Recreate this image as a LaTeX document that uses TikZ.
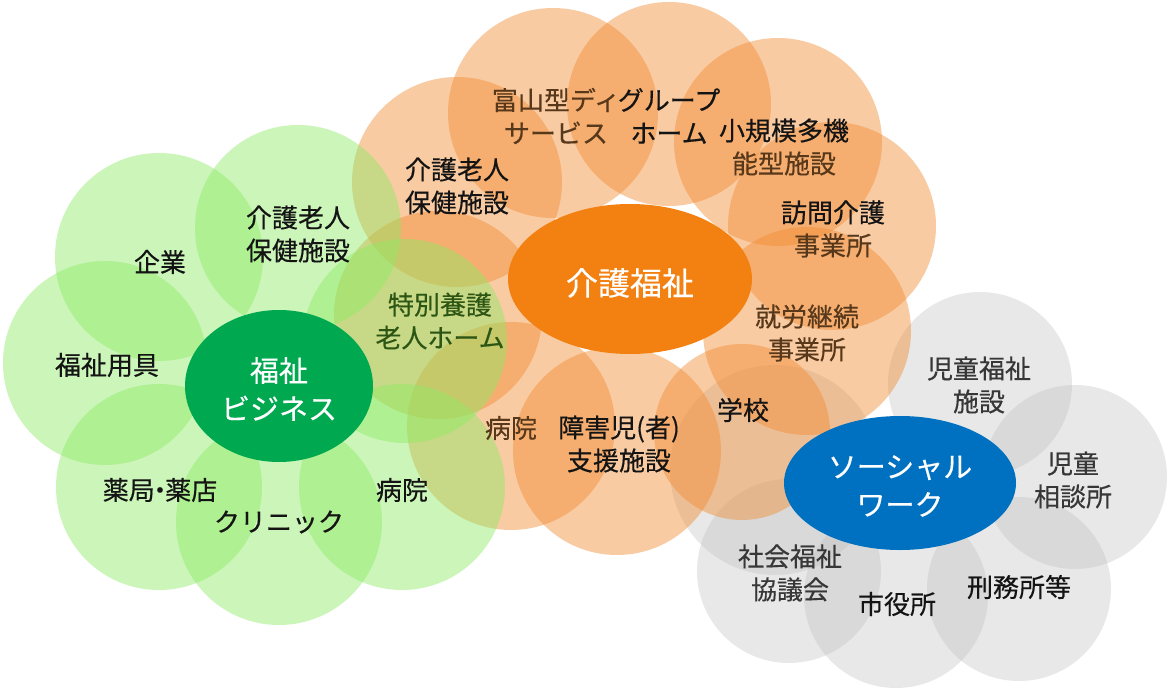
\documentclass[tikz,border=0pt]{standalone}
\usepackage{fontspec}
\newfontfamily\jp{Noto Sans CJK JP}[FakeBold=0.4]
\definecolor{gbase}{RGB}{140,235,100}
\definecolor{obase}{RGB}{242,140,50}
\definecolor{ybase}{RGB}{190,190,190}
\definecolor{gell}{RGB}{0,168,80}
\definecolor{oell}{RGB}{243,129,18}
\definecolor{bell}{RGB}{0,112,192}
\definecolor{tblack}{RGB}{20,20,20}
\definecolor{tbrown}{RGB}{88,56,26}
\definecolor{tgreen}{RGB}{45,85,20}
\definecolor{tgray}{RGB}{55,55,55}
\tikzset{
  gcirc/.style={circle, fill=gbase, fill opacity=0.45, inner sep=0pt, draw=none},
  ocirc/.style={circle, fill=obase, fill opacity=0.45, inner sep=0pt, draw=none},
  ycirc/.style={circle, fill=ybase, fill opacity=0.35, inner sep=0pt, draw=none},
  hub/.style={ellipse, inner sep=0pt, draw=none},
  lbl/.style={align=center, inner sep=0pt, text=tblack, font=\jp\fontsize{26}{33}\selectfont},
  hublbl/.style={align=center, inner sep=0pt, text=white, font=\jp\fontsize{29}{38}\selectfont},
}
\usetikzlibrary{shapes.geometric}
\begin{document}
\begin{tikzpicture}[x=1pt,y=-1pt]
\useasboundingbox (0,0) rectangle (1170,690);
\fill[white] (0,0) rectangle (1170,690);
% gray cluster
\node[ycirc, minimum size=210pt] (y0) at (775,470) {};
\node[ycirc, minimum size=184pt] (y1) at (980,384) {};
\node[ycirc, minimum size=184pt] (y2) at (1075,477) {};
\node[ycirc, minimum size=184pt] (y3) at (1019,589) {};
\node[ycirc, minimum size=184pt] (y4) at (896,596) {};
\node[ycirc, minimum size=184pt] (y5) at (789,571) {};
% orange cluster
\node[ocirc, minimum size=210pt] (o1) at (457,182) {};
\node[ocirc, minimum size=210pt] (o2) at (553,113) {};
\node[ocirc, minimum size=204pt] (o3) at (669,104) {};
\node[ocirc, minimum size=208pt] (o4) at (778,142) {};
\node[ocirc, minimum size=208pt] (o5) at (832,226) {};
\node[ocirc, minimum size=208pt] (o6) at (807,331) {};
\node[ocirc, minimum size=176pt] (o7) at (742,432) {};
\node[ocirc, minimum size=208pt] (o8) at (617,451) {};
\node[ocirc, minimum size=208pt] (o9) at (511,426) {};
\node[ocirc, minimum size=208pt] (o10) at (438,315) {};
% green cluster
\node[gcirc, minimum size=208pt] (g1) at (159,257) {};
\node[gcirc, minimum size=206pt] (g2) at (298,228) {};
\node[gcirc, minimum size=204pt] (g3) at (105,363) {};
\node[gcirc, minimum size=204pt] (g4) at (405,341) {};
\node[gcirc, minimum size=206pt] (g5) at (159,487) {};
\node[gcirc, minimum size=206pt] (g6) at (279,522) {};
\node[gcirc, minimum size=206pt] (g7) at (402,487) {};
% hubs
\node[hub, fill=gell, minimum width=188pt, minimum height=152pt] (hg) at (279,386) {};
\node[hub, fill=oell, minimum width=244pt, minimum height=150pt] (ho) at (630,279) {};
\node[hub, fill=bell, minimum width=232pt, minimum height=134pt] (hb) at (900,483) {};
\node[hublbl] (thg) at (279,389) {福祉\\ビジネス};
\node[hublbl, font=\jp\fontsize{32}{38}\selectfont] (tho) at (630,283) {介護福祉};
\node[hublbl] (thb) at (900,486) {ソーシャル\\ワーク};
% green labels
\node[lbl] (tg1) at (160,262) {企業};
\node[lbl] (tg2) at (298,234) {介護老人\\保健施設};
\node[lbl] (tg3) at (107,365) {福祉用具};
\node[lbl, text=tgreen] (tg4) at (440,321) {特別養護\\老人ホーム};
\node[lbl] (tg5) at (160,490) {薬局\kern-0.3em・\kern-0.3em薬店};
\node[lbl] (tg6) at (279,522) {クリニック};
\node[lbl] (tg7) at (402,490) {病院};
% orange labels
\node[lbl] (to1) at (457,186) {介護老人\\保健施設};
\node[lbl, text=tbrown] (to2) at (556,116) {富山型ディ\\サービス};
\node[lbl] (to3) at (669,116) {グループ\\ホーム};
\node[lbl] (to4) at (784,147) {小規模多機\\{\color{tbrown}能型施設}};
\node[lbl] (to5) at (833,229) {訪問介護\\{\color{tbrown}事業所}};
\node[lbl, text=tbrown] (to6) at (807,333) {就労継続\\事業所};
\node[lbl] (to7) at (743,410) {学校};
\node[lbl, text=tbrown] (to9) at (511,428) {病院};
\node[lbl] (to8) at (619,444) {障害児(者)\\支援施設};
% gray labels
\node[lbl, text=tgray] (ty1) at (979,385) {児童福祉\\施設};
\node[lbl, text=tgray] (ty2) at (1073,480) {児童\\相談所};
\node[lbl] (ty3) at (1019,587) {刑務所等};
\node[lbl] (ty4) at (897,604) {市役所};
\node[lbl, text=tgray] (ty5) at (790,573) {社会福祉\\協議会};
\end{tikzpicture}
\end{document}
